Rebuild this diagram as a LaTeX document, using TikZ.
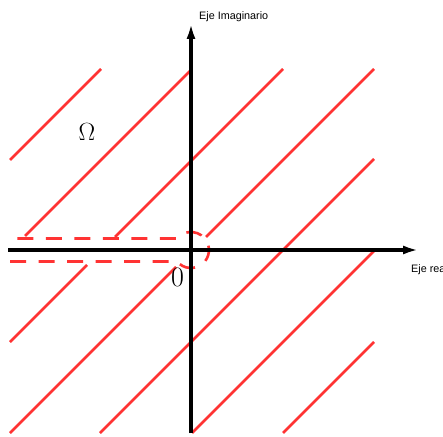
\documentclass[tikz,border=0pt]{standalone}
\usepackage{fontspec}
\newfontfamily\labelfont{Liberation Sans}
\usetikzlibrary{arrows.meta}
\definecolor{hatchred}{RGB}{255,51,51}
\begin{document}
\begin{tikzpicture}[x=1pt,y=1pt,
  axis/.style={line width=3.5pt,-{Latex[length=16pt,width=9pt]}},
  hatch/.style={hatchred,line width=2.5pt},
  contour/.style={hatchred,line width=2.6pt,dash pattern=on 16pt off 12.5pt},
  axlabel/.style={font=\labelfont\fontsize{10.8}{12}\selectfont,inner sep=0pt,anchor=base west},
  mathlabel/.style={inner sep=0pt}]
\useasboundingbox (0,0) rectangle (443,436);
% hatch lines
\draw[hatch] (10,276) -- (101,367);
\draw[hatch] (25,200) -- (191,366);
\draw[hatch] (115,199) -- (283,367);
\draw[hatch] (206,199) -- (374,367);
\draw[hatch] (100,3) -- (374,277);
\draw[hatch] (192,3) -- (374,185);
\draw[hatch] (283,3) -- (374,94);
\draw[hatch] (10,94) -- (87,171);
\draw[hatch] (10,3) -- (176,169);
% keyhole contour
\draw[contour] (10,174.5) -- (177.14,174.5) arc[start angle=219.7,end angle=500.3,radius=18] -- (10,197.5);
% axes
\coordinate (O) at (191,186);
\coordinate (xl) at (8,186);
\coordinate (xr) at (419,186);
\coordinate (yb) at (191,3);
\coordinate (yt) at (191,413);
\draw[axis] (xl) -- (xr);
\draw[axis] (yb) -- (yt);
% labels
\node[axlabel] (ylab) at (199,416) {Eje Imaginario};
\node[axlabel] (xlab) at (411,164) {Eje real};
\node[mathlabel,font=\fontsize{25}{25}\selectfont] (omega) at (87,304) {$\Omega$};
\node[mathlabel,font=\fontsize{28}{28}\selectfont] (zero) at (177.5,159) {0};
\end{tikzpicture}
\end{document}
